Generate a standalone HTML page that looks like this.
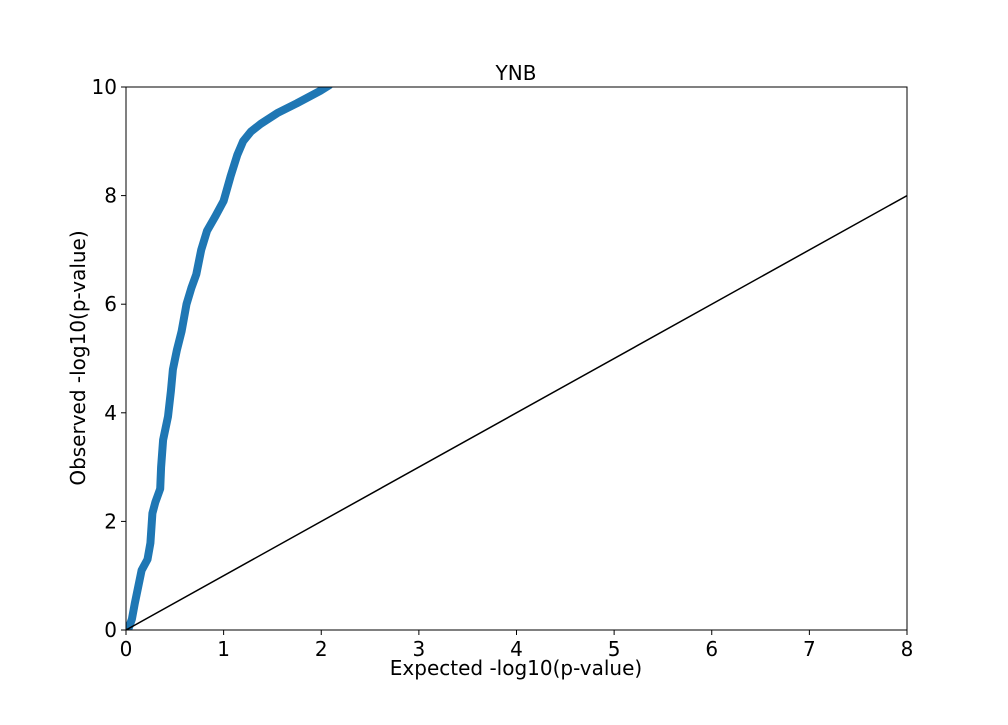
<!DOCTYPE html>
<html><head><meta charset="utf-8"><style>
body{margin:0;background:#fff}
text{font-family:"DejaVu Sans","Liberation Sans",sans-serif;fill:#000}
</style></head><body>
<svg id="chart" width="1008" height="720" xmlns="http://www.w3.org/2000/svg">
<defs><clipPath id="clip"><rect x="126" y="87" width="781" height="543"/></clipPath></defs>
<rect width="1008" height="720" fill="#fff"/>
<g id="plot" clip-path="url(#clip)"></g>
<g id="axes"></g>
<text x="516" y="80" text-anchor="middle" font-size="20">YNB</text>
<text x="516" y="675" text-anchor="middle" font-size="20">Expected -log10(p-value)</text>
<text x="85" y="358" text-anchor="middle" font-size="20" transform="rotate(-90 85 358)">Observed -log10(p-value)</text>
</svg>
<script>
const expected=[0.02,0.06,0.09,0.12,0.16,0.22,0.25,0.27,0.3,0.35,0.36,0.38,0.43,0.46,0.48,0.52,0.57,0.62,0.67,0.72,0.77,0.83,0.91,1.0,1.07,1.14,1.2,1.28,1.38,1.55,1.75,1.99,2.08];
const observed=[0,0.2,0.49,0.75,1.1,1.3,1.6,2.15,2.35,2.6,3.0,3.5,3.93,4.4,4.8,5.15,5.5,6.0,6.3,6.55,7.0,7.35,7.6,7.9,8.35,8.75,9.0,9.18,9.32,9.52,9.7,9.93,10.03];
const xTicks=[0,1,2,3,4,5,6,7,8];
const yTicks=[0,2,4,6,8,10];
const diag=[0,8];
const X0=126,X1=907,Y0=630,Y1=87;
const sx=v=>X0+(v-0)/(8-0)*(X1-X0);
const sy=v=>Y0-(v-0)/(10-0)*(Y0-Y1);
const NS='http://www.w3.org/2000/svg';
function mk(tag,attrs,parent){const e=document.createElementNS(NS,tag);for(const k in attrs)e.setAttribute(k,attrs[k]);parent.appendChild(e);return e;}
const plot=document.getElementById('plot'),axes=document.getElementById('axes');
let d=expected.map((v,i)=>(i?'L':'M')+sx(v).toFixed(1)+','+sy(observed[i]).toFixed(1)).join(' ');
const curve=mk('path',{d:d,fill:'none',stroke:'#1f77b4','stroke-width':8,'stroke-linejoin':'round','stroke-linecap':'round'},plot);


const dl=mk('line',{x1:sx(diag[0]),y1:sy(diag[0]),x2:sx(diag[1]),y2:sy(diag[1]),stroke:'#000','stroke-width':1.5},plot);


const fr=mk('rect',{x:X0,y:Y1,width:X1-X0,height:Y0-Y1,fill:'none',stroke:'#000','stroke-width':1},axes);


xTicks.forEach(t=>{const x=sx(t);
 const l=mk('line',{x1:x,y1:Y0,x2:x,y2:Y0+5,stroke:'#000'},axes);
 
 
 const tx=mk('text',{x:x,y:Y0+26,'text-anchor':'middle','font-size':20},axes);tx.textContent=t;
 
 });
yTicks.forEach(t=>{const y=sy(t);
 const l=mk('line',{x1:X0-5,y1:y,x2:X0,y2:y,stroke:'#000'},axes);
 
 
 const tx=mk('text',{x:X0-9,y:y+7,'text-anchor':'end','font-size':20},axes);tx.textContent=t;
 
 });
</script>
</body></html>
